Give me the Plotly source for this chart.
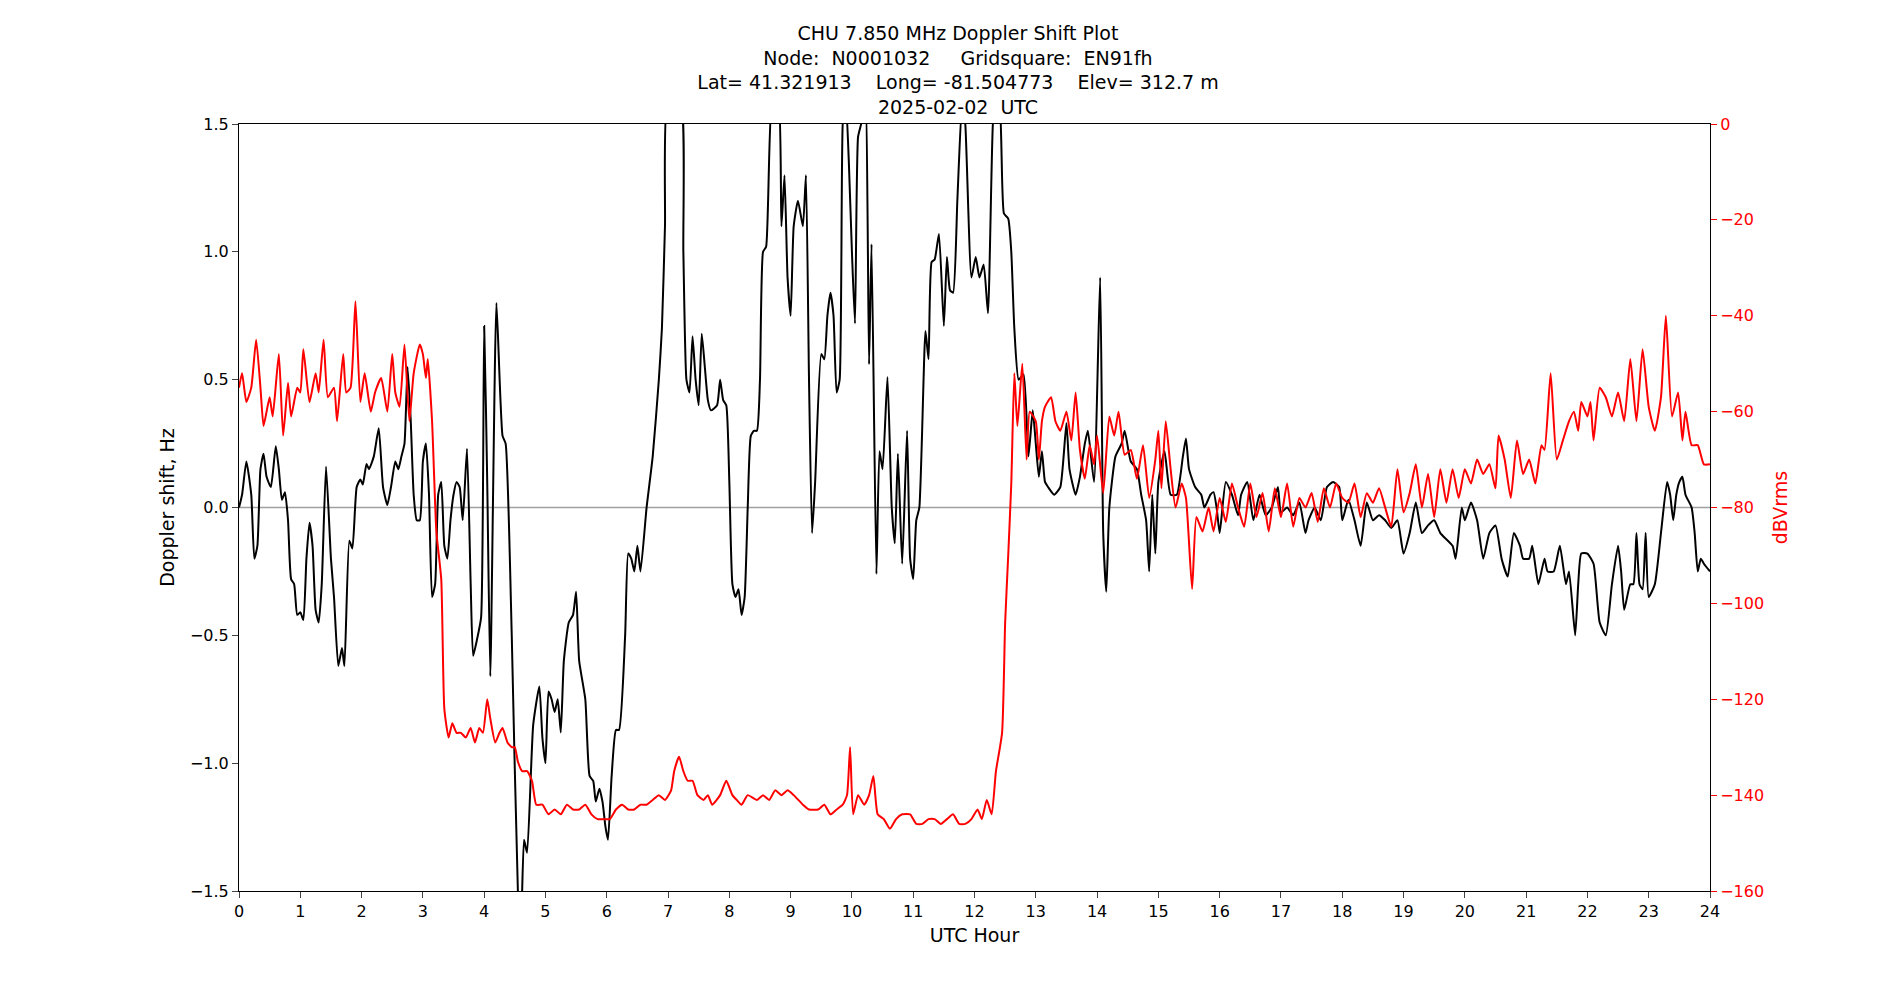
import plotly.graph_objects as go

# Doppler shift (Hz) vs UTC hour
dop_hour = [0, 0.05, 0.12, 0.2, 0.25, 0.3, 0.35, 0.4, 0.45, 0.52, 0.6, 0.65, 0.7, 0.75, 0.8, 0.85, 0.9, 0.95, 1.0, 1.05,
            1.1, 1.15, 1.2, 1.25, 1.3, 1.35, 1.42, 1.5, 1.55, 1.62, 1.68, 1.72, 1.8, 1.85, 1.92, 1.98, 2.02, 2.08, 2.12, 2.2,
            2.28, 2.35, 2.42, 2.48, 2.55, 2.6, 2.65, 2.7, 2.75, 2.8, 2.85, 2.9, 2.95, 3.0, 3.05, 3.1, 3.15, 3.2, 3.25, 3.3,
            3.35, 3.4, 3.45, 3.5, 3.55, 3.6, 3.65, 3.72, 3.78, 3.82, 3.88, 3.95, 4.0, 4.05, 4.1, 4.2, 4.3, 4.35, 4.45, 4.55,
            4.6, 4.65, 4.7, 4.8, 4.9, 4.95, 5.0, 5.05, 5.1, 5.15, 5.2, 5.25, 5.3, 5.38, 5.45, 5.5, 5.55, 5.65, 5.72, 5.78,
            5.82, 5.88, 5.93, 5.98, 6.02, 6.08, 6.15, 6.2, 6.3, 6.35, 6.4, 6.45, 6.5, 6.55, 6.65, 6.75, 6.85, 6.9, 6.95, 7.0,
            7.2, 7.25, 7.3, 7.35, 7.4, 7.45, 7.5, 7.55, 7.6, 7.65, 7.7, 7.8, 7.85, 7.9, 7.95, 8.0, 8.05, 8.1, 8.15, 8.2,
            8.25, 8.3, 8.35, 8.4, 8.45, 8.5, 8.55, 8.6, 8.7, 8.75, 8.8, 8.85, 8.9, 8.95, 9.0, 9.05, 9.12, 9.2, 9.25, 9.3,
            9.35, 9.4, 9.5, 9.55, 9.6, 9.65, 9.7, 9.75, 9.8, 9.85, 9.9, 9.95, 10.0, 10.05, 10.1, 10.15, 10.22, 10.28, 10.32, 10.4,
            10.45, 10.5, 10.58, 10.65, 10.7, 10.75, 10.82, 10.9, 10.95, 11.0, 11.05, 11.1, 11.2, 11.25, 11.3, 11.35, 11.42, 11.5, 11.55, 11.6,
            11.65, 11.72, 11.8, 11.85, 11.95, 12.02, 12.08, 12.15, 12.22, 12.3, 12.35, 12.4, 12.48, 12.55, 12.6, 12.65, 12.72, 12.8, 12.88, 12.95,
            13.0, 13.05, 13.1, 13.15, 13.2, 13.3, 13.4, 13.5, 13.55, 13.65, 13.72, 13.8, 13.85, 13.95, 14.05, 14.1, 14.15, 14.2, 14.3, 14.4,
            14.45, 14.55, 14.65, 14.72, 14.8, 14.85, 14.9, 14.95, 15.0, 15.1, 15.2, 15.3, 15.4, 15.45, 15.5, 15.6, 15.7, 15.75, 15.85, 15.9,
            15.95, 16.0, 16.1, 16.2, 16.3, 16.35, 16.45, 16.55, 16.65, 16.75, 16.85, 16.95, 17.0, 17.1, 17.2, 17.3, 17.4, 17.45, 17.55, 17.65,
            17.75, 17.85, 17.95, 18.0, 18.1, 18.2, 18.3, 18.4, 18.5, 18.6, 18.7, 18.8, 18.9, 19.0, 19.1, 19.2, 19.3, 19.4, 19.5, 19.6,
            19.8, 19.85, 19.95, 20.0, 20.1, 20.2, 20.3, 20.4, 20.5, 20.6, 20.7, 20.8, 20.9, 20.95, 21.05, 21.1, 21.2, 21.3, 21.35, 21.45,
            21.55, 21.65, 21.7, 21.8, 21.85, 21.9, 22.0, 22.1, 22.2, 22.3, 22.4, 22.5, 22.55, 22.6, 22.7, 22.75, 22.8, 22.85, 22.9, 22.95,
            23.0, 23.1, 23.2, 23.3, 23.35, 23.4, 23.45, 23.5, 23.55, 23.6, 23.7, 23.75, 23.8, 23.85, 23.9, 24.0]
dop_hz = [0.0, 0.05, 0.18, 0.05, -0.2, -0.15, 0.15, 0.21, 0.12, 0.08, 0.24, 0.15, 0.03, 0.06, -0.05, -0.28, -0.3, -0.42, -0.41, -0.44,
          -0.2, -0.06, -0.15, -0.4, -0.45, -0.3, 0.16, -0.2, -0.35, -0.62, -0.55, -0.62, -0.13, -0.16, 0.08, 0.11, 0.09, 0.17, 0.15, 0.2,
          0.31, 0.08, 0.01, 0.08, 0.18, 0.15, 0.2, 0.25, 0.55, 0.35, 0.05, -0.05, -0.05, 0.18, 0.25, 0.05, -0.35, -0.3, 0.05, 0.1,
          -0.15, -0.2, -0.05, 0.05, 0.1, 0.08, -0.05, 0.23, -0.3, -0.58, -0.52, -0.43, 0.71, 0.1, -0.66, 0.8, 0.28, 0.25, -0.5, -1.5,
          -1.65, -1.3, -1.35, -0.85, -0.7, -0.9, -1.0, -0.72, -0.75, -0.8, -0.75, -0.88, -0.6, -0.45, -0.42, -0.33, -0.6, -0.75, -1.05, -1.07,
          -1.15, -1.1, -1.15, -1.25, -1.3, -1.05, -0.87, -0.87, -0.5, -0.18, -0.2, -0.25, -0.15, -0.25, 0.0, 0.2, 0.5, 0.7, 1.1, 1.6,
          1.6, 1.0, 0.5, 0.45, 0.67, 0.5, 0.4, 0.68, 0.55, 0.42, 0.38, 0.4, 0.5, 0.42, 0.4, 0.1, -0.3, -0.35, -0.32, -0.42,
          -0.35, 0.0, 0.28, 0.3, 0.3, 0.5, 1.0, 1.02, 1.6, 1.6, 1.6, 1.1, 1.3, 0.9, 0.75, 1.1, 1.2, 1.1, 1.3, 0.5,
          -0.1, 0.1, 0.6, 0.58, 0.75, 0.84, 0.75, 0.45, 0.5, 1.5, 1.6, 1.35, 1.0, 0.72, 1.45, 1.5, 1.6, 0.56, 1.03, -0.26,
          0.22, 0.15, 0.51, 0.0, -0.14, 0.21, -0.22, 0.3, -0.2, -0.28, -0.05, 0.0, 0.69, 0.58, 0.96, 0.97, 1.07, 0.71, 0.98, 0.85,
          0.84, 1.2, 1.6, 1.5, 0.9, 0.98, 0.9, 0.95, 0.76, 1.5, 1.6, 1.6, 1.15, 1.13, 1.0, 0.7, 0.5, 0.52, 0.2, 0.38,
          0.25, 0.12, 0.22, 0.1, 0.08, 0.05, 0.08, 0.33, 0.15, 0.05, 0.12, 0.25, 0.3, 0.1, 0.9, -0.1, -0.33, 0.0, 0.2, 0.25,
          0.3, 0.18, 0.15, 0.05, -0.05, -0.25, 0.05, -0.18, 0.1, 0.22, 0.05, 0.05, 0.2, 0.27, 0.15, 0.08, 0.05, 0.0, 0.05, 0.06,
          0.0, -0.1, 0.1, 0.05, -0.03, 0.05, 0.1, -0.05, 0.05, -0.03, 0.0, 0.08, -0.02, 0.0, -0.03, 0.02, -0.1, -0.05, 0.0, -0.05,
          0.08, 0.1, 0.08, -0.05, 0.03, -0.05, -0.15, 0.02, -0.05, -0.03, -0.05, -0.08, -0.05, -0.18, -0.1, 0.02, -0.1, -0.07, -0.05, -0.1,
          -0.15, -0.2, 0.0, -0.05, 0.02, -0.05, -0.2, -0.1, -0.07, -0.2, -0.27, -0.1, -0.15, -0.2, -0.2, -0.15, -0.3, -0.2, -0.25, -0.25,
          -0.15, -0.3, -0.25, -0.5, -0.3, -0.18, -0.18, -0.22, -0.45, -0.5, -0.3, -0.15, -0.25, -0.4, -0.3, -0.3, -0.1, -0.3, -0.32, -0.1,
          -0.35, -0.3, -0.1, 0.1, 0.05, -0.05, 0.05, 0.1, 0.12, 0.05, 0.0, -0.1, -0.25, -0.2, -0.22, -0.25]

# Signal level (dBVrms) vs UTC hour
pow_hour = [0, 0.05, 0.12, 0.2, 0.28, 0.35, 0.4, 0.45, 0.5, 0.55, 0.65, 0.72, 0.8, 0.85, 0.95, 1.0, 1.05, 1.15, 1.25, 1.3,
            1.38, 1.45, 1.55, 1.6, 1.7, 1.75, 1.82, 1.9, 1.98, 2.05, 2.15, 2.22, 2.32, 2.42, 2.5, 2.55, 2.62, 2.7, 2.78, 2.85,
            2.95, 3.0, 3.05, 3.08, 3.15, 3.22, 3.3, 3.35, 3.42, 3.48, 3.55, 3.62, 3.7, 3.78, 3.85, 3.92, 3.98, 4.05, 4.1, 4.18,
            4.25, 4.3, 4.38, 4.45, 4.5, 4.55, 4.62, 4.7, 4.78, 4.85, 4.95, 5.05, 5.15, 5.25, 5.35, 5.45, 5.55, 5.65, 5.75, 5.85,
            5.95, 6.05, 6.15, 6.25, 6.35, 6.45, 6.55, 6.65, 6.75, 6.85, 6.95, 7.05, 7.1, 7.18, 7.25, 7.32, 7.4, 7.48, 7.58, 7.65,
            7.72, 7.85, 7.95, 8.05, 8.12, 8.2, 8.3, 8.45, 8.55, 8.65, 8.75, 8.85, 8.95, 9.05, 9.2, 9.3, 9.45, 9.55, 9.65, 9.75,
            9.85, 9.92, 9.97, 10.02, 10.1, 10.2, 10.28, 10.35, 10.42, 10.52, 10.62, 10.72, 10.82, 10.95, 11.05, 11.15, 11.25, 11.35, 11.45, 11.55,
            11.65, 11.75, 11.85, 11.95, 12.05, 12.12, 12.2, 12.28, 12.35, 12.45, 12.5, 12.55, 12.6, 12.65, 12.7, 12.78, 12.85, 12.9, 13.0, 13.05,
            13.1, 13.15, 13.25, 13.32, 13.4, 13.5, 13.58, 13.65, 13.72, 13.8, 13.88, 13.95, 14.0, 14.1, 14.2, 14.28, 14.35, 14.45, 14.55, 14.65,
            14.75, 14.85, 14.95, 15.0, 15.05, 15.12, 15.2, 15.28, 15.38, 15.45, 15.55, 15.62, 15.72, 15.82, 15.9, 16.0, 16.1, 16.2, 16.3, 16.4,
            16.5, 16.6, 16.7, 16.8, 16.9, 17.0, 17.1, 17.2, 17.3, 17.4, 17.5, 17.6, 17.7, 17.8, 17.9, 18.0, 18.1, 18.2, 18.3, 18.4,
            18.5, 18.6, 18.7, 18.8, 18.9, 19.0, 19.1, 19.2, 19.3, 19.4, 19.5, 19.6, 19.7, 19.8, 19.9, 20.0, 20.1, 20.2, 20.3, 20.4,
            20.5, 20.55, 20.65, 20.75, 20.85, 20.95, 21.05, 21.15, 21.25, 21.3, 21.4, 21.5, 21.6, 21.7, 21.78, 21.85, 21.9, 22.0, 22.05, 22.1,
            22.2, 22.3, 22.4, 22.5, 22.6, 22.7, 22.8, 22.9, 23.0, 23.1, 23.2, 23.28, 23.38, 23.48, 23.55, 23.6, 23.7, 23.8, 23.9, 24.0]
pow_db = [-55, -52, -58, -55, -45, -55, -63, -60, -57, -61, -48, -65, -54, -61, -55, -56, -47, -58, -52, -56,
          -45, -57, -55, -62, -48, -56, -55, -37, -58, -52, -60, -56, -53, -60, -48, -56, -59, -46, -62, -52,
          -46, -48, -53, -49, -62, -85, -95, -122, -128, -125, -127, -127, -128, -126, -129, -126, -127, -120, -124, -129,
          -127, -126, -129, -130, -130, -133, -135, -135, -137, -142, -142, -144, -143, -144, -142, -143, -143, -142, -144, -145,
          -145, -145, -143, -142, -143, -143, -142, -142, -141, -140, -141, -139, -135, -132, -135, -137, -137, -140, -141, -140,
          -142, -140, -137, -140, -141, -142, -140, -141, -140, -141, -139, -140, -139, -140, -142, -143, -143, -142, -144, -143,
          -142, -140, -130, -144, -140, -142, -140, -136, -144, -145, -147, -145, -144, -144, -146, -146, -145, -145, -146, -145,
          -144, -146, -146, -145, -143, -145, -141, -144, -135, -127, -104, -90, -75, -52, -63, -50, -70, -60, -62, -70,
          -62, -59, -57, -62, -64, -60, -66, -56, -68, -74, -67, -71, -65, -77, -61, -65, -60, -69, -68, -74,
          -67, -78, -70, -64, -76, -62, -72, -80, -75, -78, -97, -82, -85, -80, -85, -78, -83, -75, -80, -84,
          -75, -82, -77, -85, -76, -82, -75, -84, -78, -80, -77, -83, -76, -80, -75, -78, -79, -75, -82, -77,
          -79, -76, -80, -84, -72, -81, -77, -71, -80, -73, -82, -72, -79, -72, -78, -72, -75, -70, -73, -71,
          -76, -65, -70, -78, -66, -73, -70, -75, -67, -68, -52, -70, -66, -62, -60, -64, -58, -61, -58, -66,
          -55, -57, -61, -56, -62, -49, -62, -47, -59, -64, -57, -40, -61, -56, -66, -60, -67, -67, -71, -71]

hour_ticks = list(range(0, 25))

font = dict(family="DejaVu Sans", size=16, color="black")

fig = go.Figure()
fig.add_trace(go.Scatter(x=dop_hour, y=dop_hz, mode="lines", line=dict(color="black", width=2, shape="spline", smoothing=0.5),
                         showlegend=False))
fig.add_trace(go.Scatter(x=pow_hour, y=pow_db, mode="lines", line=dict(color="red", width=2, shape="spline", smoothing=0.5),
                         yaxis="y2", showlegend=False))

fig.add_shape(type="line", xref="x", yref="y", x0=0, x1=24, y0=0, y1=0, line=dict(color="#a0a0a0", width=1.5), layer="below")

fig.update_layout(
    width=1900, height=1000,
    paper_bgcolor="white", plot_bgcolor="white",
    margin=dict(l=231, r=198, t=116, b=117),
    font=font,
    title=dict(text="CHU 7.850 MHz Doppler Shift Plot<br>Node:  N0001032     Gridsquare:  EN91fh<br>"
                    "Lat= 41.321913    Long= -81.504773    Elev= 312.7 m<br>2025-02-02  UTC",
               x=0.5, xanchor="center", y=0.968, yanchor="top", font=dict(family="DejaVu Sans", size=19)),
    xaxis=dict(range=[0, 24], tickvals=hour_ticks, ticks="outside", ticklen=6, showgrid=False, zeroline=False,
               showline=True, linecolor="black", mirror=True, title=dict(text="UTC Hour", standoff=8)),
    yaxis=dict(range=[-1.5, 1.5], tickvals=[-1.5, -1.0, -0.5, 0.0, 0.5, 1.0, 1.5], ticktext=["−1.5", "−1.0", "−0.5", "0.0", "0.5", "1.0", "1.5"],
               ticks="outside", ticklen=6, showgrid=False, zeroline=False, showline=True, linecolor="black",
               title=dict(text="Doppler shift, Hz", standoff=10)),
    yaxis2=dict(range=[-160, 0], overlaying="y", side="right", tickvals=list(range(-160, 1, 20)),
                ticktext=["−160", "−140", "−120", "−100", "−80", "−60", "−40", "−20", "0"],
                ticks="outside", ticklen=6, tickcolor="red", tickfont=dict(color="red"), showgrid=False, zeroline=False,
                showline=True, linecolor="black", title=dict(text="dBVrms", font=dict(color="red"), standoff=10)),
)

fig.write_html("out.html")
